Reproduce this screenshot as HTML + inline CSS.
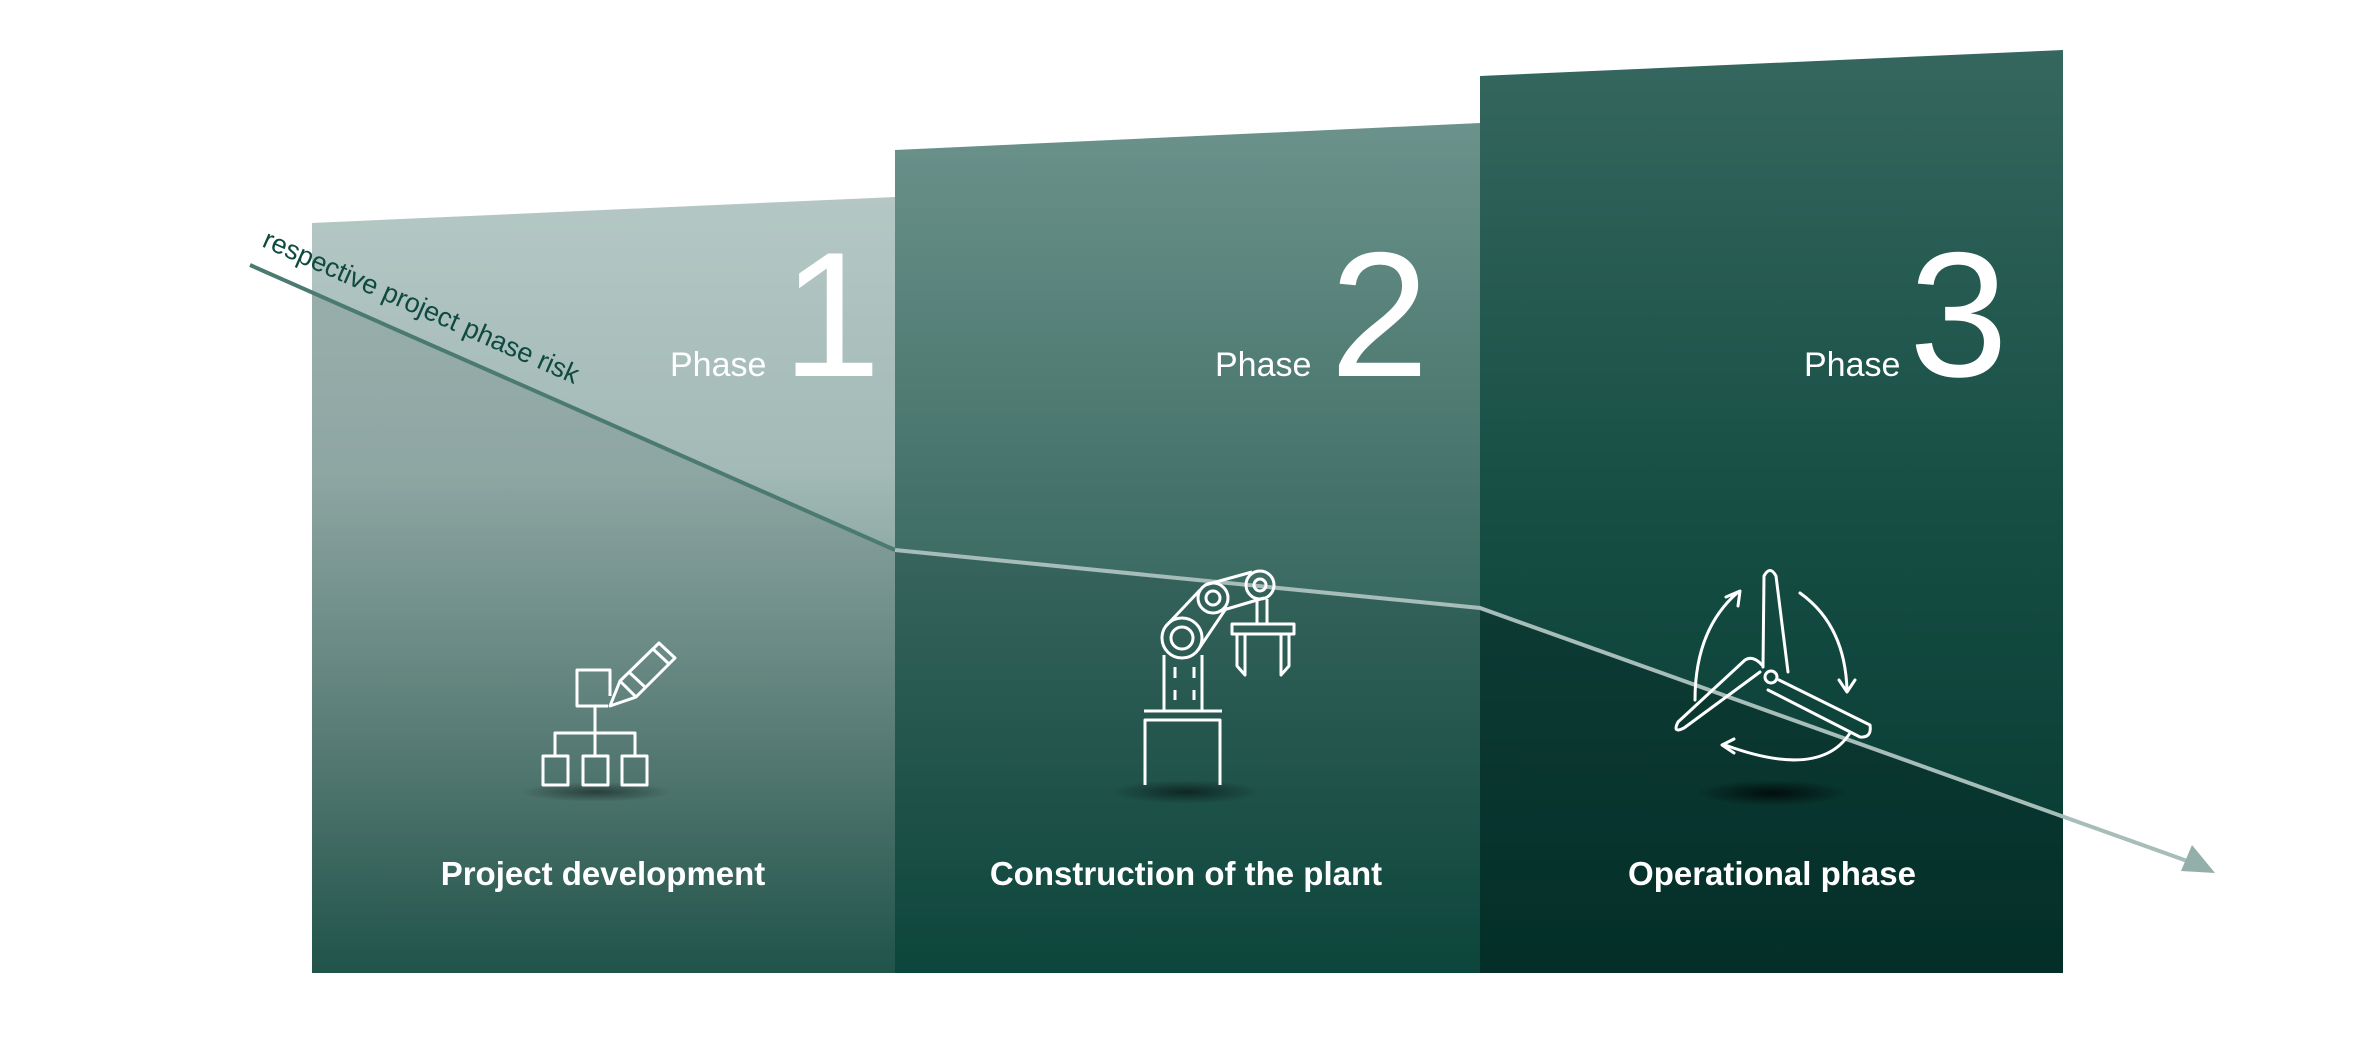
<!DOCTYPE html>
<html><head><meta charset="utf-8"><style>
html,body{margin:0;padding:0;background:#fff;}
svg{display:block;}
text{font-family:"Liberation Sans",sans-serif;}
</style></head><body>
<svg width="2376" height="1043" viewBox="0 0 2376 1043" xmlns="http://www.w3.org/2000/svg">
<defs>
<linearGradient id="g1" x1="0" y1="0" x2="0" y2="1"><stop offset="0" stop-color="#b4c7c4"/><stop offset="0.35" stop-color="#a3bab6"/><stop offset="0.65" stop-color="#6e9089"/><stop offset="1" stop-color="#245a4f"/></linearGradient>
<linearGradient id="g2" x1="0" y1="0" x2="0" y2="1"><stop offset="0" stop-color="#6b928b"/><stop offset="0.5" stop-color="#3f6e65"/><stop offset="1" stop-color="#0d4a3f"/></linearGradient>
<linearGradient id="g3" x1="0" y1="0" x2="0" y2="1"><stop offset="0" stop-color="#35675f"/><stop offset="0.5" stop-color="#164e44"/><stop offset="1" stop-color="#04372f"/></linearGradient>
<radialGradient id="sh"><stop offset="0" stop-color="#000" stop-opacity="0.75"/><stop offset="1" stop-color="#000" stop-opacity="0"/></radialGradient>
</defs>
<polygon points="312,223 895,197 895,973 312,973" fill="url(#g1)"/>
<polygon points="895,150 1480,123 1480,973 895,973" fill="url(#g2)"/>
<polygon points="1480,76 2063,50 2063,973 1480,973" fill="url(#g3)"/>
<polygon points="312,294 895,550 1480,608 2063,818 2063,973 312,973" fill="#0a2a24" opacity="0.13"/>
<polygon points="1480,608 2063,818 2063,973 1480,973" fill="#021f1a" opacity="0.25"/>
<polyline points="250,265 895,550" fill="none" stroke="#4a7a70" stroke-width="4"/>
<polyline points="895,550 1480,608 2190,862" fill="none" stroke="#a6bdb9" stroke-width="4"/>
<polygon points="2215,873 2181,871 2192,845" fill="#94afaa"/>
<text x="261" y="246" font-size="27" fill="#0e4a40" transform="rotate(23.8 261 246)">respective project phase risk</text>
<g fill="#fff">
<text x="670" y="376" font-size="34">Phase</text>
<text x="782" y="376" font-size="178">1</text>
<text x="1215" y="376" font-size="34">Phase</text>
<text x="1330" y="376" font-size="178">2</text>
<text x="1804" y="376" font-size="34">Phase</text>
<text x="1909" y="376" font-size="178">3</text>
<g font-weight="bold" font-size="33" text-anchor="middle">
<text x="603" y="885">Project development</text>
<text x="1186" y="885">Construction of the plant</text>
<text x="1772" y="885">Operational phase</text>
</g>
</g>
<ellipse cx="596" cy="792" rx="75" ry="10" fill="url(#sh)" opacity="0.6"/>
<ellipse cx="1186" cy="792" rx="75" ry="12" fill="url(#sh)" opacity="0.7"/>
<ellipse cx="1772" cy="793" rx="75" ry="13" fill="url(#sh)"/>
<g fill="none" stroke="#fff" stroke-width="3" stroke-linejoin="round">
<path d="M610,696 V670 H577 V706 H608"/>
<line x1="595" y1="706" x2="595" y2="756"/>
<path d="M555,756 V733 H635 V756"/>
<rect x="543" y="756" width="25" height="29"/><rect x="583" y="756" width="25" height="29"/><rect x="622" y="756" width="25" height="29"/>
<path d="M610,706 L620,681 L659,643 L675,658 L636,697 Z"/>
<line x1="620" y1="681" x2="636" y2="697"/><line x1="630" y1="673" x2="646" y2="688"/>
<line x1="653" y1="649" x2="669" y2="664"/>
</g>
<g fill="none" stroke="#fff" stroke-width="3" stroke-linejoin="round">
<path d="M1145,785 V720 H1220 V785"/>
<line x1="1144" y1="711" x2="1222" y2="711"/>
<path d="M1164,711 V655 M1202,711 V655"/>
<line x1="1175" y1="667" x2="1175" y2="678" /><line x1="1194" y1="667" x2="1194" y2="678"/>
<line x1="1175" y1="690" x2="1175" y2="700" /><line x1="1194" y1="690" x2="1194" y2="700"/>
<circle cx="1182" cy="638" r="20"/><circle cx="1182" cy="638" r="11"/>
<circle cx="1213" cy="598" r="15"/><circle cx="1213" cy="598" r="7"/>
<circle cx="1260" cy="585" r="14"/><circle cx="1260" cy="585" r="6"/>
<path d="M1166,626 L1200,590 M1198,650 L1227,607"/>
<path d="M1205,585 L1252,572 M1220,611 L1264,598"/>
<path d="M1257,599 V624 M1267,599 V624"/>
<rect x="1232" y="624" width="62" height="10"/>
<path d="M1237,634 V666 L1245,675 V634 M1289,634 V666 L1281,675 V634"/>
</g>
<g fill="none" stroke="#fff" stroke-width="3" stroke-linejoin="round" stroke-linecap="round">
<path d="M1763,667 L1764,576 Q1770,565 1776,576 L1788,672"/>
<path d="M1779,680 L1870,725 Q1872,738 1860,737 L1768,690"/>
<path d="M1760,672 L1684,728 Q1672,734 1678,722 L1745,660 Q1753,655 1762,665"/>
<circle cx="1771" cy="677" r="6"/>
<path d="M1695,700 Q1695,630 1737,593 M1726,597 L1740,591 L1738,606"/>
<path d="M1800,593 Q1845,625 1847,690 M1839,680 L1847,692 L1855,680"/>
<path d="M1850,733 Q1820,780 1725,745 M1734,739 L1722,745 L1734,753"/>
</g>
</svg>
</body></html>
